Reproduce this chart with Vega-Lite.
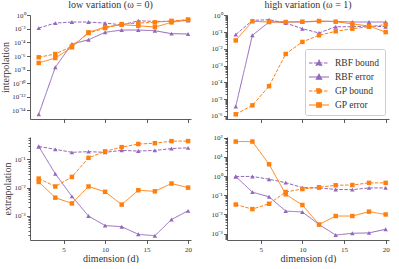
{
  "$schema": "https://vega.github.io/schema/vega-lite/v6.json",
  "padding": {"left": 0, "top": 0, "right": 3, "bottom": 0},
  "config": {
    "font": "Liberation Serif",
    "view": {"stroke": null},
    "axis": {"grid": false, "domainColor": "#333", "domainWidth": 0.8, "tickColor": "#333", "tickWidth": 0.8, "labelFontSize": 7, "labelColor": "#333", "labelFont": "Liberation Serif", "titleFont": "Liberation Serif", "titleFontSize": 10, "titleFontWeight": "normal", "titleColor": "#333", "labelPadding": 1.5, "titlePadding": 1, "labelOverlap": false, "labelFlush": false},
    "title": {"fontSize": 10, "fontWeight": "normal", "color": "#333", "offset": 1, "font": "Liberation Serif"}
  },
  "datasets": {
    "d": [
      {"p":"TL","s":"RBF bound","x":2,"y":1.35e-2},{"p":"TL","s":"RBF bound","x":4,"y":7.4e-2},{"p":"TL","s":"RBF bound","x":6,"y":1.05e-1},{"p":"TL","s":"RBF bound","x":8,"y":1.05e-1},{"p":"TL","s":"RBF bound","x":10,"y":7.4e-2},{"p":"TL","s":"RBF bound","x":12,"y":4.0e-2},{"p":"TL","s":"RBF bound","x":14,"y":1.6e-1},{"p":"TL","s":"RBF bound","x":16,"y":1.3e-1},{"p":"TL","s":"RBF bound","x":18,"y":1.3e-1},{"p":"TL","s":"RBF bound","x":20,"y":1.8e-1},
      {"p":"TL","s":"RBF error","x":2,"y":2.5e-15},{"p":"TL","s":"RBF error","x":4,"y":2.2e-8},{"p":"TL","s":"RBF error","x":6,"y":6.0e-5},{"p":"TL","s":"RBF error","x":8,"y":2.5e-4},{"p":"TL","s":"RBF error","x":10,"y":3.2e-3},{"p":"TL","s":"RBF error","x":12,"y":6.9e-3},{"p":"TL","s":"RBF error","x":14,"y":6.9e-3},{"p":"TL","s":"RBF error","x":16,"y":5.5e-3},{"p":"TL","s":"RBF error","x":18,"y":2.0e-3},{"p":"TL","s":"RBF error","x":20,"y":1.8e-3},
      {"p":"TL","s":"GP bound","x":2,"y":6.5e-7},{"p":"TL","s":"GP bound","x":4,"y":2.0e-6},{"p":"TL","s":"GP bound","x":6,"y":2.7e-5},{"p":"TL","s":"GP bound","x":8,"y":2.5e-3},{"p":"TL","s":"GP bound","x":10,"y":1.35e-2},{"p":"TL","s":"GP bound","x":12,"y":5.2e-2},{"p":"TL","s":"GP bound","x":14,"y":7.4e-2},{"p":"TL","s":"GP bound","x":16,"y":9.3e-2},{"p":"TL","s":"GP bound","x":18,"y":1.6e-1},{"p":"TL","s":"GP bound","x":20,"y":2.3e-1},
      {"p":"TL","s":"GP error","x":2,"y":9.5e-8},{"p":"TL","s":"GP error","x":4,"y":5.1e-7},{"p":"TL","s":"GP error","x":6,"y":1.95e-5},{"p":"TL","s":"GP error","x":8,"y":3.2e-3},{"p":"TL","s":"GP error","x":10,"y":1.9e-2},{"p":"TL","s":"GP error","x":12,"y":4.2e-2},{"p":"TL","s":"GP error","x":14,"y":3.0e-2},{"p":"TL","s":"GP error","x":16,"y":1.9e-2},{"p":"TL","s":"GP error","x":18,"y":9.3e-2},{"p":"TL","s":"GP error","x":20,"y":2.3e-1},

      {"p":"TR","s":"RBF bound","x":2,"y":7.1e-2},{"p":"TR","s":"RBF bound","x":4,"y":0.5},{"p":"TR","s":"RBF bound","x":6,"y":0.55},{"p":"TR","s":"RBF bound","x":8,"y":0.35},{"p":"TR","s":"RBF bound","x":10,"y":0.16},{"p":"TR","s":"RBF bound","x":12,"y":8.9e-2},{"p":"TR","s":"RBF bound","x":14,"y":0.21},{"p":"TR","s":"RBF bound","x":16,"y":0.21},{"p":"TR","s":"RBF bound","x":18,"y":0.23},{"p":"TR","s":"RBF bound","x":20,"y":0.21},
      {"p":"TR","s":"RBF error","x":2,"y":3.7e-6},{"p":"TR","s":"RBF error","x":4,"y":6.5e-2},{"p":"TR","s":"RBF error","x":6,"y":0.4},{"p":"TR","s":"RBF error","x":8,"y":0.4},{"p":"TR","s":"RBF error","x":10,"y":0.4},{"p":"TR","s":"RBF error","x":12,"y":0.44},{"p":"TR","s":"RBF error","x":14,"y":0.44},{"p":"TR","s":"RBF error","x":16,"y":0.4},{"p":"TR","s":"RBF error","x":18,"y":0.4},{"p":"TR","s":"RBF error","x":20,"y":0.4},
      {"p":"TR","s":"GP bound","x":2,"y":1.26e-6},{"p":"TR","s":"GP bound","x":4,"y":4.3e-6},{"p":"TR","s":"GP bound","x":6,"y":6.0e-5},{"p":"TR","s":"GP bound","x":8,"y":5.0e-3},{"p":"TR","s":"GP bound","x":10,"y":2.6e-2},{"p":"TR","s":"GP bound","x":12,"y":6.5e-2},{"p":"TR","s":"GP bound","x":14,"y":0.112},{"p":"TR","s":"GP bound","x":16,"y":0.16},{"p":"TR","s":"GP bound","x":18,"y":0.21},{"p":"TR","s":"GP bound","x":20,"y":0.28},
      {"p":"TR","s":"GP error","x":2,"y":3.2e-2},{"p":"TR","s":"GP error","x":4,"y":0.44},{"p":"TR","s":"GP error","x":6,"y":0.4},{"p":"TR","s":"GP error","x":8,"y":0.4},{"p":"TR","s":"GP error","x":10,"y":0.42},{"p":"TR","s":"GP error","x":12,"y":0.46},{"p":"TR","s":"GP error","x":14,"y":0.42},{"p":"TR","s":"GP error","x":16,"y":0.31},{"p":"TR","s":"GP error","x":18,"y":0.23},{"p":"TR","s":"GP error","x":20,"y":0.1},

      {"p":"BL","s":"RBF bound","x":2,"y":0.29},{"p":"BL","s":"RBF bound","x":4,"y":0.23},{"p":"BL","s":"RBF bound","x":6,"y":0.18},{"p":"BL","s":"RBF bound","x":8,"y":0.19},{"p":"BL","s":"RBF bound","x":10,"y":0.18},{"p":"BL","s":"RBF bound","x":12,"y":0.21},{"p":"BL","s":"RBF bound","x":14,"y":0.2},{"p":"BL","s":"RBF bound","x":16,"y":0.21},{"p":"BL","s":"RBF bound","x":18,"y":0.245},{"p":"BL","s":"RBF bound","x":20,"y":0.26},
      {"p":"BL","s":"RBF error","x":2,"y":0.29},{"p":"BL","s":"RBF error","x":4,"y":3.1e-2},{"p":"BL","s":"RBF error","x":6,"y":4.9e-3},{"p":"BL","s":"RBF error","x":8,"y":9.8e-4},{"p":"BL","s":"RBF error","x":10,"y":4.5e-4},{"p":"BL","s":"RBF error","x":12,"y":4.1e-4},{"p":"BL","s":"RBF error","x":14,"y":2.2e-4},{"p":"BL","s":"RBF error","x":16,"y":1.95e-4},{"p":"BL","s":"RBF error","x":18,"y":7.4e-4},{"p":"BL","s":"RBF error","x":20,"y":1.5e-3},
      {"p":"BL","s":"GP bound","x":2,"y":2.1e-2},{"p":"BL","s":"GP bound","x":4,"y":1.1e-2},{"p":"BL","s":"GP bound","x":6,"y":2.4e-2},{"p":"BL","s":"GP bound","x":8,"y":0.115},{"p":"BL","s":"GP bound","x":10,"y":0.195},{"p":"BL","s":"GP bound","x":12,"y":0.275},{"p":"BL","s":"GP bound","x":14,"y":0.355},{"p":"BL","s":"GP bound","x":16,"y":0.38},{"p":"BL","s":"GP bound","x":18,"y":0.45},{"p":"BL","s":"GP bound","x":20,"y":0.45},
      {"p":"BL","s":"GP error","x":2,"y":1.6e-2},{"p":"BL","s":"GP error","x":4,"y":4.4e-3},{"p":"BL","s":"GP error","x":6,"y":2.75e-3},{"p":"BL","s":"GP error","x":8,"y":1.1e-2},{"p":"BL","s":"GP error","x":10,"y":7.1e-3},{"p":"BL","s":"GP error","x":12,"y":2.5e-3},{"p":"BL","s":"GP error","x":14,"y":8.1e-3},{"p":"BL","s":"GP error","x":16,"y":7.4e-3},{"p":"BL","s":"GP error","x":18,"y":1.4e-2},{"p":"BL","s":"GP error","x":20,"y":1.0e-2},

      {"p":"BR","s":"RBF bound","x":2,"y":0.95},{"p":"BR","s":"RBF bound","x":4,"y":0.95},{"p":"BR","s":"RBF bound","x":6,"y":0.68},{"p":"BR","s":"RBF bound","x":8,"y":0.45},{"p":"BR","s":"RBF bound","x":10,"y":0.25},{"p":"BR","s":"RBF bound","x":12,"y":0.24},{"p":"BR","s":"RBF bound","x":14,"y":0.2},{"p":"BR","s":"RBF bound","x":16,"y":0.195},{"p":"BR","s":"RBF bound","x":18,"y":0.24},{"p":"BR","s":"RBF bound","x":20,"y":0.24},
      {"p":"BR","s":"RBF error","x":2,"y":0.95},{"p":"BR","s":"RBF error","x":4,"y":0.145},{"p":"BR","s":"RBF error","x":6,"y":8.3e-2},{"p":"BR","s":"RBF error","x":8,"y":1.5e-2},{"p":"BR","s":"RBF error","x":10,"y":1.35e-2},{"p":"BR","s":"RBF error","x":12,"y":3.0e-3},{"p":"BR","s":"RBF error","x":14,"y":8.5e-4},{"p":"BR","s":"RBF error","x":16,"y":1.05e-3},{"p":"BR","s":"RBF error","x":18,"y":1.1e-3},{"p":"BR","s":"RBF error","x":20,"y":1.7e-3},
      {"p":"BR","s":"GP bound","x":2,"y":3.3e-2},{"p":"BR","s":"GP bound","x":4,"y":1.9e-2},{"p":"BR","s":"GP bound","x":6,"y":3.6e-2},{"p":"BR","s":"GP bound","x":8,"y":0.148},{"p":"BR","s":"GP bound","x":10,"y":0.21},{"p":"BR","s":"GP bound","x":12,"y":0.26},{"p":"BR","s":"GP bound","x":14,"y":0.33},{"p":"BR","s":"GP bound","x":16,"y":0.34},{"p":"BR","s":"GP bound","x":18,"y":0.44},{"p":"BR","s":"GP bound","x":20,"y":0.44},
      {"p":"BR","s":"GP error","x":2,"y":62},{"p":"BR","s":"GP error","x":4,"y":62},{"p":"BR","s":"GP error","x":6,"y":4.1},{"p":"BR","s":"GP error","x":8,"y":0.112},{"p":"BR","s":"GP error","x":10,"y":3.1e-2},{"p":"BR","s":"GP error","x":12,"y":3.0e-3},{"p":"BR","s":"GP error","x":14,"y":8.3e-3},{"p":"BR","s":"GP error","x":16,"y":8.3e-3},{"p":"BR","s":"GP error","x":18,"y":1.4e-2},{"p":"BR","s":"GP error","x":20,"y":1.0e-2}
    ]
  },
  "columns": 2,
  "bounds": "flush",
  "spacing": {"row": 18, "column": 36},
  "resolve": {"scale": {"color": "independent", "shape": "independent", "strokeDash": "independent"}},
  "concat": [
    {
      "width": 161, "height": 104,
      "title": "low variation (ω = 0)",
      "data": {"name": "d"},
      "transform": [{"filter": "datum.p === 'TL'"}],
      "encoding": {
        "x": {"field": "x", "type": "quantitative", "scale": {"domain": [0.95, 20.35], "nice": false, "zero": false}, "axis": {"values": [5, 10, 15, 20], "labels": false, "title": null, "tickSize": 3.5}},
        "y": {"field": "y", "type": "quantitative", "scale": {"type": "log", "domain": [5e-16, 1.15], "nice": false}, "axis": {"values": [1, 1e-2, 1e-4, 1e-6, 1e-8, 1e-10, 1e-12, 1e-14], "title": "interpolation", "tickSize": 3.5, "labelExpr": "abs(log(datum.value)/LN10-round(log(datum.value)/LN10))>0.01 ? '' : '10'+replace(replace(replace(replace(replace(replace(replace(replace(replace(replace(replace(''+round(log(datum.value)/LN10),'-','⁻'),'0','⁰'),'1','¹'),'2','²'),'3','³'),'4','⁴'),'5','⁵'),'6','⁶'),'7','⁷'),'8','⁸'),'9','⁹')"}},
        "color": {"field": "s", "type": "nominal", "scale": {"domain": ["RBF bound", "RBF error", "GP bound", "GP error"], "range": ["#9467bd", "#9467bd", "#ff7f0e", "#ff7f0e"]}, "legend": null},
        "strokeDash": {"field": "s", "type": "nominal", "scale": {"domain": ["RBF bound", "RBF error", "GP bound", "GP error"], "range": [[3.5, 1.5], [1, 0], [3.5, 1.5], [1, 0]]}, "legend": null}
      },
      "layer": [
        {"mark": {"type": "line", "strokeWidth": 1}},
        {"mark": {"type": "point", "filled": true, "size": 20, "opacity": 1}, "encoding": {"shape": {"field": "s", "type": "nominal", "scale": {"domain": ["RBF bound", "RBF error", "GP bound", "GP error"], "range": ["triangle-up", "triangle-up", "square", "square"]}, "legend": null}}}
      ]
    },
    {
      "width": 162, "height": 104,
      "title": "high variation (ω = 1)",
      "data": {"name": "d"},
      "transform": [{"filter": "datum.p === 'TR'"}],
      "encoding": {
        "x": {"field": "x", "type": "quantitative", "scale": {"domain": [0.95, 20.4], "nice": false, "zero": false}, "axis": {"values": [5, 10, 15, 20], "labels": false, "title": null, "tickSize": 3.5}},
        "y": {"field": "y", "type": "quantitative", "scale": {"type": "log", "domain": [6.6e-7, 1.05], "nice": false}, "axis": {"tickCount": 20, "title": null, "tickSize": {"condition": {"test": "abs(log(datum.value)/LN10-round(log(datum.value)/LN10))<0.01", "value": 3.5}, "value": 2}, "labelExpr": "abs(log(datum.value)/LN10-round(log(datum.value)/LN10))>0.01 ? '' : '10'+replace(replace(replace(replace(replace(replace(replace(replace(replace(replace(replace(''+round(log(datum.value)/LN10),'-','⁻'),'0','⁰'),'1','¹'),'2','²'),'3','³'),'4','⁴'),'5','⁵'),'6','⁶'),'7','⁷'),'8','⁸'),'9','⁹')"}},
        "color": {"field": "s", "type": "nominal", "scale": {"domain": ["RBF bound", "RBF error", "GP bound", "GP error"], "range": ["#9467bd", "#9467bd", "#ff7f0e", "#ff7f0e"]},
          "legend": {"title": null, "orient": "bottom-right", "offset": 4, "padding": 5, "strokeColor": "#cccccc", "fillColor": "#ffffff", "cornerRadius": 2, "labelFont": "Liberation Serif", "labelFontSize": 9.5, "labelColor": "#333", "symbolType": "stroke", "symbolSize": 256, "symbolStrokeWidth": 1.2, "labelOffset": 7, "rowPadding": -2,
            "encode": {"symbols": {"update": {"shape": {"signal": "indexof(datum.value,'RBF')>=0 ? 'M-1.25,0H1.25M-0.33,0.27L0,-0.33L0.33,0.27Z' : 'M-1.25,0H1.25M-0.28,-0.28H0.28V0.28H-0.28Z'"}}}}}},
        "strokeDash": {"field": "s", "type": "nominal", "scale": {"domain": ["RBF bound", "RBF error", "GP bound", "GP error"], "range": [[3.5, 1.5], [1, 0], [3.5, 1.5], [1, 0]]},
          "legend": {"title": null, "orient": "bottom-right", "offset": 4, "padding": 5, "strokeColor": "#cccccc", "fillColor": "#ffffff", "cornerRadius": 2, "labelFont": "Liberation Serif", "labelFontSize": 9.5, "labelColor": "#333", "symbolType": "stroke", "symbolSize": 256, "symbolStrokeWidth": 1.2, "labelOffset": 7, "rowPadding": -2,
            "encode": {"symbols": {"update": {"shape": {"signal": "indexof(datum.value,'RBF')>=0 ? 'M-1.25,0H1.25M-0.33,0.27L0,-0.33L0.33,0.27Z' : 'M-1.25,0H1.25M-0.28,-0.28H0.28V0.28H-0.28Z'"}}}}}}
      },
      "layer": [
        {"mark": {"type": "line", "strokeWidth": 1}},
        {"mark": {"type": "point", "filled": true, "size": 20, "opacity": 1}, "encoding": {"shape": {"field": "s", "type": "nominal", "scale": {"domain": ["GP bound", "GP error", "RBF bound", "RBF error"], "range": ["square", "square", "triangle-up", "triangle-up"]}, "legend": null}}}
      ]
    },
    {
      "width": 161, "height": 103,
      "data": {"name": "d"},
      "transform": [{"filter": "datum.p === 'BL'"}],
      "encoding": {
        "x": {"field": "x", "type": "quantitative", "scale": {"domain": [0.95, 20.35], "nice": false, "zero": false}, "axis": {"values": [5, 10, 15, 20], "title": "dimension (d)", "tickSize": 3.5}},
        "y": {"field": "y", "type": "quantitative", "scale": {"type": "log", "domain": [1.38e-4, 0.63], "nice": false}, "axis": {"tickCount": 20, "title": "extrapolation", "tickSize": {"condition": {"test": "abs(log(datum.value)/LN10-round(log(datum.value)/LN10))<0.01", "value": 3.5}, "value": 2}, "labelExpr": "abs(log(datum.value)/LN10-round(log(datum.value)/LN10))>0.01 ? '' : '10'+replace(replace(replace(replace(replace(replace(replace(replace(replace(replace(replace(''+round(log(datum.value)/LN10),'-','⁻'),'0','⁰'),'1','¹'),'2','²'),'3','³'),'4','⁴'),'5','⁵'),'6','⁶'),'7','⁷'),'8','⁸'),'9','⁹')"}},
        "color": {"field": "s", "type": "nominal", "scale": {"domain": ["RBF bound", "RBF error", "GP bound", "GP error"], "range": ["#9467bd", "#9467bd", "#ff7f0e", "#ff7f0e"]}, "legend": null},
        "strokeDash": {"field": "s", "type": "nominal", "scale": {"domain": ["RBF bound", "RBF error", "GP bound", "GP error"], "range": [[3.5, 1.5], [1, 0], [3.5, 1.5], [1, 0]]}, "legend": null}
      },
      "layer": [
        {"mark": {"type": "line", "strokeWidth": 1}},
        {"mark": {"type": "point", "filled": true, "size": 20, "opacity": 1}, "encoding": {"shape": {"field": "s", "type": "nominal", "scale": {"domain": ["RBF bound", "RBF error", "GP bound", "GP error"], "range": ["triangle-up", "triangle-up", "square", "square"]}, "legend": null}}}
      ]
    },
    {
      "width": 162, "height": 103,
      "data": {"name": "d"},
      "transform": [{"filter": "datum.p === 'BR'"}],
      "encoding": {
        "x": {"field": "x", "type": "quantitative", "scale": {"domain": [0.95, 20.4], "nice": false, "zero": false}, "axis": {"values": [5, 10, 15, 20], "title": "dimension (d)", "tickSize": 3.5}},
        "y": {"field": "y", "type": "quantitative", "scale": {"type": "log", "domain": [4.7e-4, 107], "nice": false}, "axis": {"tickCount": 20, "title": null, "tickSize": {"condition": {"test": "abs(log(datum.value)/LN10-round(log(datum.value)/LN10))<0.01", "value": 3.5}, "value": 2}, "labelExpr": "abs(log(datum.value)/LN10-round(log(datum.value)/LN10))>0.01 ? '' : '10'+replace(replace(replace(replace(replace(replace(replace(replace(replace(replace(replace(''+round(log(datum.value)/LN10),'-','⁻'),'0','⁰'),'1','¹'),'2','²'),'3','³'),'4','⁴'),'5','⁵'),'6','⁶'),'7','⁷'),'8','⁸'),'9','⁹')"}},
        "color": {"field": "s", "type": "nominal", "scale": {"domain": ["RBF bound", "RBF error", "GP bound", "GP error"], "range": ["#9467bd", "#9467bd", "#ff7f0e", "#ff7f0e"]}, "legend": null},
        "strokeDash": {"field": "s", "type": "nominal", "scale": {"domain": ["RBF bound", "RBF error", "GP bound", "GP error"], "range": [[3.5, 1.5], [1, 0], [3.5, 1.5], [1, 0]]}, "legend": null}
      },
      "layer": [
        {"mark": {"type": "line", "strokeWidth": 1}},
        {"mark": {"type": "point", "filled": true, "size": 20, "opacity": 1}, "encoding": {"shape": {"field": "s", "type": "nominal", "scale": {"domain": ["RBF bound", "RBF error", "GP bound", "GP error"], "range": ["triangle-up", "triangle-up", "square", "square"]}, "legend": null}}}
      ]
    }
  ]
}
